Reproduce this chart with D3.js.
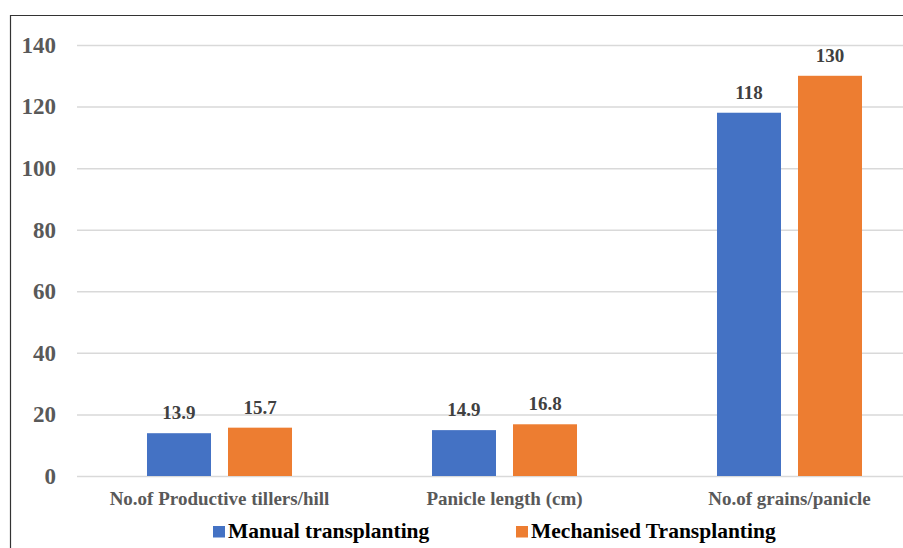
<!DOCTYPE html>
<html>
<head>
<meta charset="utf-8">
<script src="https://cdn.jsdelivr.net/npm/d3@7"></script>
<style>
  html, body { margin: 0; padding: 0; background: #fff; }
  svg { display: block; }
</style>
</head>
<body>
<svg id="chart" width="903" height="548"></svg>
<script>
// Yield attributes under two transplanting methods
const categories = ["No.of Productive tillers/hill", "Panicle length (cm)", "No.of grains/panicle"];
const seriesNames = ["Manual transplanting", "Mechanised Transplanting"];
const manualValues = [13.9, 14.9, 118];
const mechanisedValues = [15.7, 16.8, 130];
const valueLabels = [["13.9", "14.9", "118"], ["15.7", "16.8", "130"]];
const yTicks = [0, 20, 40, 60, 80, 100, 120, 140];
const colors = ["#4472C4", "#ED7D31"];

const seriesValues = [manualValues, mechanisedValues];
const FONT = "'Liberation Serif', 'Times New Roman', serif";

const svg = d3.select("#chart");
const W = 903, H = 548;
const plot = { left: 77, right: 932, top: 45, bottom: 476 };

// Frame
svg.append("path")
  .attr("d", `M10.5,${H} L10.5,15.5 L${W},15.5`)
  .attr("fill", "none")
  .attr("stroke", "#333")
  .attr("stroke-width", 1.2);

const y = d3.scaleLinear().domain([0, 140]).range([plot.bottom, plot.top]);
const x0 = d3.scaleBand().domain(categories).range([plot.left, plot.right]).padding(0);
const x1 = d3.scaleBand().domain(seriesNames).range([0, x0.bandwidth()])
  .paddingInner(0.21).paddingOuter(0.864);

// Gridlines and y tick labels
const yAxis = d3.axisLeft(y).tickValues(yTicks).tickSize(-(plot.right - plot.left)).tickPadding(21);
const gy = svg.append("g").attr("transform", `translate(${plot.left},0)`).call(yAxis);
gy.select(".domain").remove();
gy.selectAll(".tick line").attr("stroke", "#d9d9d9").attr("stroke-width", 1.5);
gy.selectAll(".tick text")
  .attr("font-family", FONT)
  .attr("font-weight", "bold")
  .attr("font-size", 23)
  .attr("fill", "#595959");

// Bars
const barData = (c, i) => seriesNames.map((s, j) => ({ s, j, v: seriesValues[j][i], label: valueLabels[j][i] }));
const groups = svg.append("g").selectAll("g")
  .data(categories)
  .join("g")
  .attr("transform", d => `translate(${x0(d)},0)`);

groups.selectAll("rect")
  .data(barData)
  .join("rect")
  .attr("x", d => x1(d.s))
  .attr("width", x1.bandwidth())
  .attr("y", d => y(d.v))
  .attr("height", d => y(0) - y(d.v))
  .attr("fill", d => colors[d.j]);

groups.selectAll("text.val")
  .data(barData)
  .join("text")
  .attr("class", "val")
  .attr("x", d => x1(d.s) + x1.bandwidth() / 2)
  .attr("y", d => y(d.v) - 14)
  .attr("text-anchor", "middle")
  .attr("font-family", FONT)
  .attr("font-weight", "bold")
  .attr("font-size", 19)
  .attr("fill", "#404040")
  .text(d => d.label);

// Category axis labels
const xAxis = d3.axisBottom(x0).tickSize(0).tickPadding(15.5);
const gx = svg.append("g").attr("transform", `translate(0,${plot.bottom})`).call(xAxis);
gx.select(".domain").remove();
gx.selectAll(".tick text")
  .attr("font-family", FONT)
  .attr("font-weight", "bold")
  .attr("font-size", 19)
  .attr("fill", "#595959");

// Legend
const legendX = [213, 516];
const legend = svg.append("g").selectAll("g")
  .data(seriesNames)
  .join("g")
  .attr("transform", (d, i) => `translate(${legendX[i]},526)`);
legend.append("rect").attr("width", 12).attr("height", 11.5).attr("fill", (d, i) => colors[i]);
legend.append("text")
  .attr("x", 15)
  .attr("y", 12)
  .attr("font-family", FONT)
  .attr("font-weight", "bold")
  .attr("font-size", 21.5)
  .attr("fill", "#000")
  .text(d => d);
</script>
</body>
</html>
